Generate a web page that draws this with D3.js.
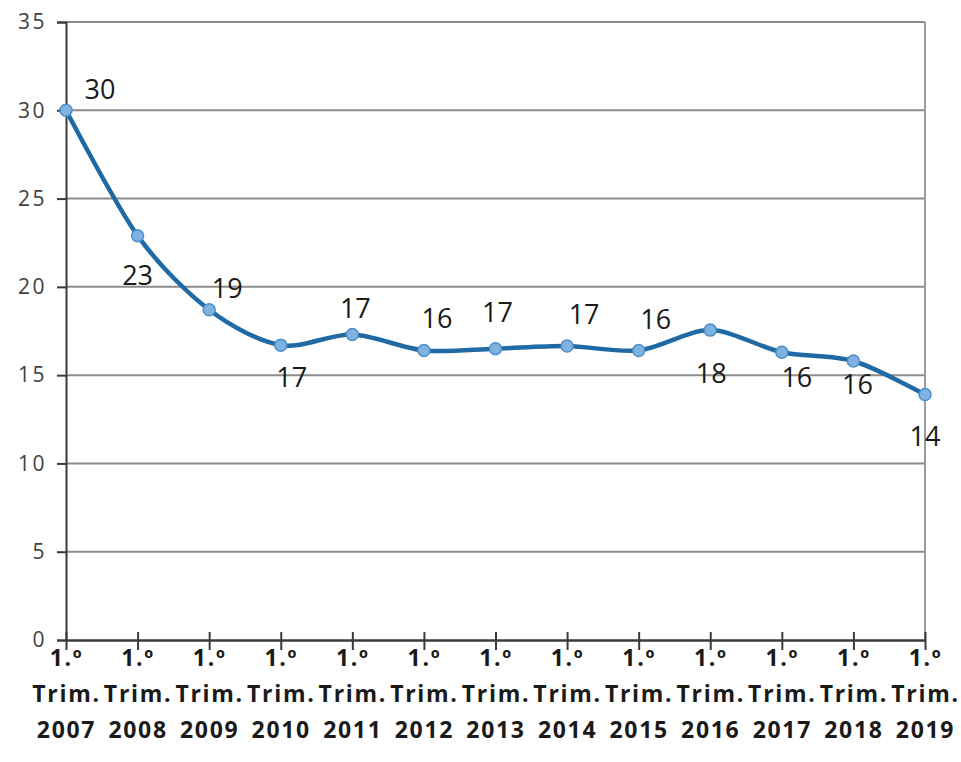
<!DOCTYPE html>
<html>
<head>
<meta charset="utf-8">
<script src="https://cdn.jsdelivr.net/npm/d3@7"></script>
<style>
  body { margin: 0; background: #fff; }
  svg { display: block; }
</style>
</head>
<body>
<svg id="chart" width="961" height="762"></svg>
<script>
"use strict";

// quarter labels, split in three lines when drawn
var categories = [
    "1.º Trim. 2007", "1.º Trim. 2008", "1.º Trim. 2009", "1.º Trim. 2010",
    "1.º Trim. 2011", "1.º Trim. 2012", "1.º Trim. 2013", "1.º Trim. 2014",
    "1.º Trim. 2015", "1.º Trim. 2016", "1.º Trim. 2017", "1.º Trim. 2018",
    "1.º Trim. 2019"
];

var values = [30, 22.9, 18.7, 16.7, 17.3, 16.4, 16.5, 16.65, 16.4, 17.55, 16.3, 15.8, 13.9];

var valueLabels = ["30", "23", "19", "17", "17", "16", "17", "17", "16", "18", "16", "16", "14"];

var yTicks = [0, 5, 10, 15, 20, 25, 30, 35];

// where each value label sits relative to its point (px)
var labelNudge = [
    [34, -21], [0, 40], [18, -21], [11, 32], [3, -26], [13, -32], [2, -36],
    [17, -31], [17, -31], [1, 43], [15, 25], [4, 24], [0, 42]
];


var svg = d3.select("#chart");

var plot = { left: 66, right: 925, top: 22, bottom: 640 };

var xScale = d3.scalePoint().domain(categories).range([plot.left, plot.right]);
var yScale = d3.scaleLinear().domain([0, 35]).range([plot.bottom, plot.top]);


// horizontal gridlines
svg.append("g")
    .selectAll("line")
    .data(yTicks.filter(function(d) { return d > 0; }))
    .enter()
    .append("line")
      .attr("x1", plot.left)
      .attr("x2", plot.right)
      .attr("y1", function(d) { return yScale(d); })
      .attr("y2", function(d) { return yScale(d); })
      .attr("stroke", "#8c8c8c")
      .attr("stroke-width", 2);

// right border of plot area
svg.append("line")
    .attr("x1", plot.right).attr("x2", plot.right)
    .attr("y1", plot.top).attr("y2", plot.bottom)
    .attr("stroke", "#9a9a9a")
    .attr("stroke-width", 2);


// y axis
var yAxis = svg.append("g")
    .attr("transform", "translate(" + plot.left + ",0)")
    .call(d3.axisLeft(yScale).tickValues(yTicks).tickSize(9).tickPadding(10));

yAxis.select(".domain").attr("stroke", "#3a3a3a").attr("stroke-width", 2);
yAxis.selectAll(".tick line").attr("stroke", "#3a3a3a").attr("stroke-width", 2);
yAxis.selectAll(".tick text")
    .attr("font-family", "'Open Sans', sans-serif")
    .attr("font-size", "21px")
    .attr("letter-spacing", "2.5px")
    .attr("fill", "#404040");


// x axis
var xAxis = svg.append("g")
    .attr("transform", "translate(0," + plot.bottom + ")")
    .call(d3.axisBottom(xScale).tickSize(0).tickFormat(""));

xAxis.select(".domain").attr("stroke", "#3a3a3a").attr("stroke-width", 2.5);
xAxis.selectAll(".tick line").remove();

// ticks cross the x axis
xAxis.selectAll(".tick")
    .append("line")
      .attr("y1", -8)
      .attr("y2", 10)
      .attr("stroke", "#3a3a3a")
      .attr("stroke-width", 2);

xAxis.selectAll(".tick")
    .append("text")
      .attr("font-family", "'Open Sans', sans-serif")
      .attr("font-weight", "bold")
      .attr("font-size", "23px")
      .attr("letter-spacing", "1.7px")
      .attr("fill", "#1a1a1a")
      .attr("text-anchor", "middle")
      .each(function(d) {
          var parts = d.split(" ");
          var t = d3.select(this);
          parts.forEach(function(p, i) {
              t.append("tspan")
                .attr("x", 0)
                .attr("y", 26 + i * 36)
                .text(p);
          });
      });


// smoothed line
var line = d3.line()
    .x(function(d, i) { return xScale(categories[i]); })
    .y(function(d) { return yScale(d); })
    .curve(d3.curveCardinal.tension(0.1));

svg.append("path")
    .datum(values)
    .attr("d", line)
    .attr("fill", "none")
    .attr("stroke", "#1f6aa5")
    .attr("stroke-width", 4.5)
    .attr("stroke-linejoin", "round");

// markers
svg.append("g")
    .selectAll("circle")
    .data(values)
    .enter()
    .append("circle")
      .attr("cx", function(d, i) { return xScale(categories[i]); })
      .attr("cy", function(d) { return yScale(d); })
      .attr("r", 6)
      .attr("fill", "#7fb2e0")
      .attr("stroke", "#4f8fc8")
      .attr("stroke-width", 1.5);

// value labels
svg.append("g")
    .selectAll("text")
    .data(values)
    .enter()
    .append("text")
      .text(function(d, i) { return valueLabels[i]; })
      .attr("x", function(d, i) { return xScale(categories[i]) + labelNudge[i][0]; })
      .attr("y", function(d, i) { return yScale(d) + labelNudge[i][1]; })
      .attr("dy", "0.35em")
      .attr("text-anchor", "middle")
      .attr("font-family", "'Open Sans', sans-serif")
      .attr("font-size", "27px")
      .attr("fill", "#1a1a1a");

</script>
</body>
</html>
